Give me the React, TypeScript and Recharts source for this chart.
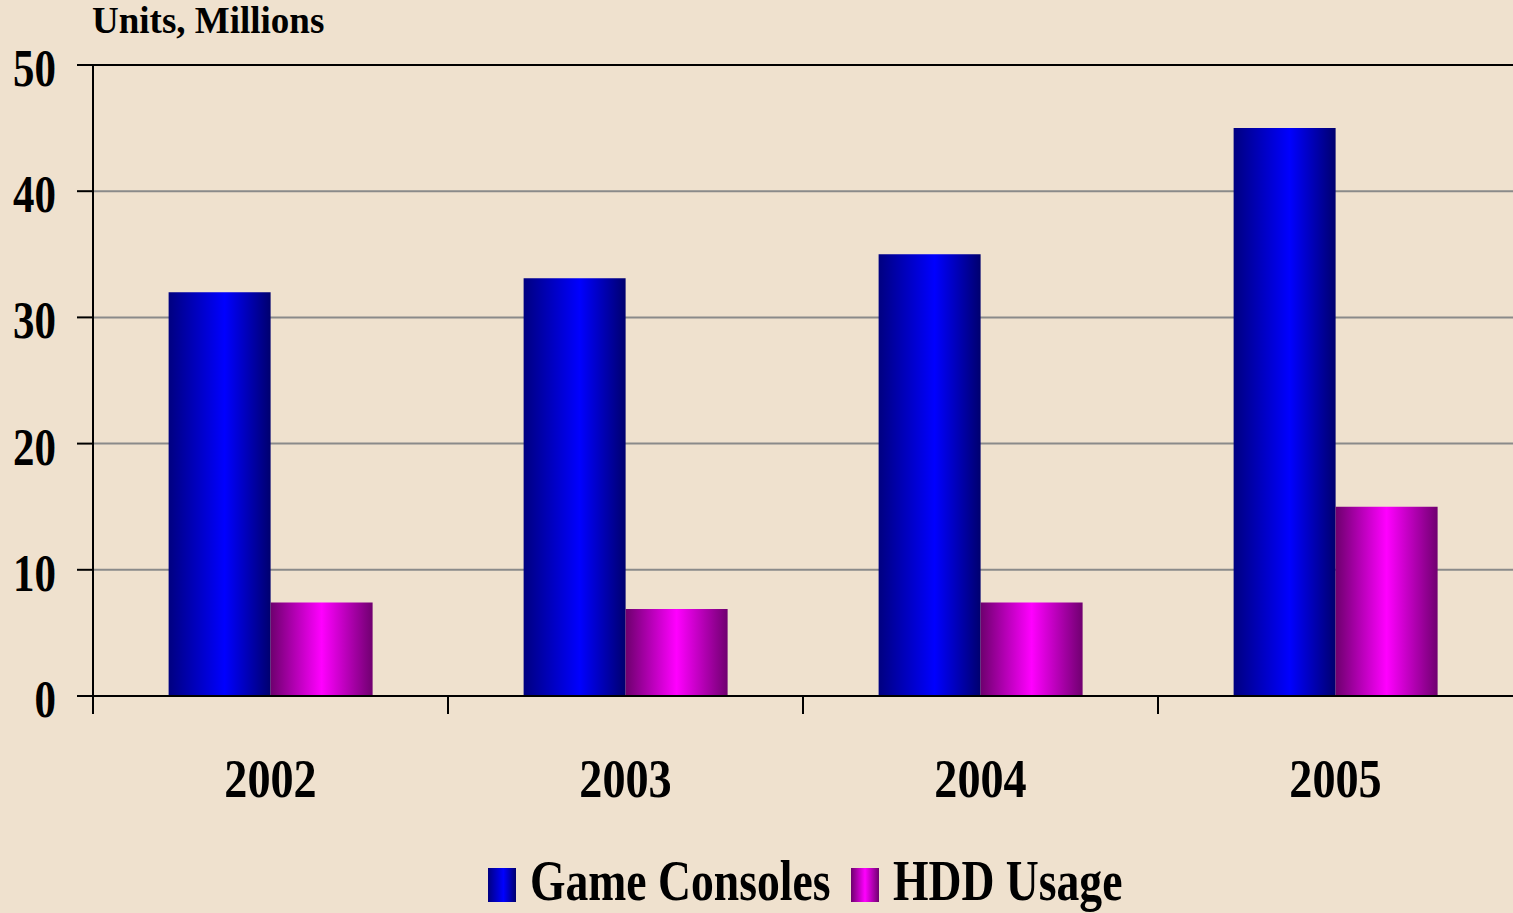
import { BarChart, Bar, XAxis, YAxis, CartesianGrid, ReferenceLine, Legend } from 'recharts';

const years = ['2002', '2003', '2004', '2005'];
const gameConsoles = [32, 33.1, 35, 45];
const hddUsage = [7.4, 6.9, 7.4, 15];
const yTicks = [0, 10, 20, 30, 40, 50];
// category boundaries; the one at the far right edge falls off the picture
const boundaryTicks = [0, 1, 2, 3];

const data = years.map((year, i) => ({
  year,
  consoles: gameConsoles[i],
  hdd: hddUsage[i],
  slot: i + 0.5,
}));

const FONT = '"Liberation Serif", "Times New Roman", serif';
const BG = '#EFE1CE';

function YTick({ x, y, payload }: any) {
  return (
    <text
      transform={`translate(${x},${y}) scale(0.81,1)`}
      x={0}
      y={21}
      textAnchor="end"
      fontFamily={FONT}
      fontWeight="bold"
      fontSize={53}
      fill="#000"
    >
      {payload.value}
    </text>
  );
}

function XTick({ x, y, payload }: any) {
  return (
    <text
      transform={`translate(${x},${y}) scale(0.84,1)`}
      x={0}
      y={100}
      textAnchor="middle"
      fontFamily={FONT}
      fontWeight="bold"
      fontSize={55}
      fill="#000"
    >
      {payload.value}
    </text>
  );
}

const noTick = () => <g />;

function UnitsLabel({ viewBox }: any) {
  return (
    <text
      x={viewBox.x + viewBox.width - 1}
      y={viewBox.y - 32}
      fontFamily={FONT}
      fontWeight="bold"
      fontSize={37}
      fill="#000"
    >
      Units, Millions
    </text>
  );
}

const legendX = [488, 851];

function LegendContent({ payload }: any) {
  return (
    <svg width={1513} height={57} style={{ display: 'block', overflow: 'visible' }}>
      <defs>
        <linearGradient id="lgBlue" x1="0" y1="0" x2="1" y2="0">
          <stop offset="0" stopColor="#000080" />
          <stop offset="0.55" stopColor="#0000FF" />
          <stop offset="1" stopColor="#00006E" />
        </linearGradient>
        <linearGradient id="lgMag" x1="0" y1="0" x2="1" y2="0">
          <stop offset="0" stopColor="#6E006E" />
          <stop offset="0.5" stopColor="#FF00FF" />
          <stop offset="1" stopColor="#700070" />
        </linearGradient>
      </defs>
      {(payload || []).map((entry: any, i: number) => (
        <g key={entry.value} transform={`translate(${legendX[i]},0)`}>
          <rect x={0} y={12} width={28} height={34} fill={i === 0 ? 'url(#lgBlue)' : 'url(#lgMag)'} />
          <text
            transform="translate(42,44) scale(0.815,1)"
            fontFamily={FONT}
            fontWeight="bold"
            fontSize={56}
            fill="#000"
          >
            {entry.value}
          </text>
        </g>
      ))}
    </svg>
  );
}

export default function App() {
  return (
    <div style={{ width: 1513, height: 913, background: BG }}>
      <style>{`body{margin:0;background:${BG};overflow:hidden}`}</style>
      <BarChart
        width={1513}
        height={913}
        data={data}
        margin={{ top: 65, right: 0, bottom: 0, left: 0 }}
        barCategoryGap="21.3%"
        barGap={0}
      >
        <defs>
          <linearGradient id="gBlue" x1="0" y1="0" x2="1" y2="0">
            <stop offset="0" stopColor="#000080" />
            <stop offset="0.55" stopColor="#0000FF" />
            <stop offset="1" stopColor="#00006E" />
          </linearGradient>
          <linearGradient id="gMag" x1="0" y1="0" x2="1" y2="0">
            <stop offset="0" stopColor="#6E006E" />
            <stop offset="0.5" stopColor="#FF00FF" />
            <stop offset="1" stopColor="#700070" />
          </linearGradient>
        </defs>
        <CartesianGrid vertical={false} stroke="#8A8A8A" strokeWidth={2} />
        <XAxis
          xAxisId="bounds"
          type="number"
          dataKey="slot"
          domain={[0, 4]}
          ticks={boundaryTicks}
          height={1}
          axisLine={{ stroke: '#000', strokeWidth: 2 }}
          tickLine={{ stroke: '#000', strokeWidth: 2 }}
          tickSize={18}
          tick={noTick}
          interval={0}
        />
        <XAxis
          xAxisId="cat"
          dataKey="year"
          height={159}
          axisLine={false}
          tickLine={false}
          tickSize={0}
          tickMargin={0}
          tick={<XTick />}
          interval={0}
        />
        <YAxis
          width={93}
          domain={[0, 50]}
          ticks={yTicks}
          interval={0}
          axisLine={{ stroke: '#000', strokeWidth: 2 }}
          tickLine={{ stroke: '#000', strokeWidth: 2 }}
          tickSize={16}
          tickMargin={21}
          tick={<YTick />}
          label={<UnitsLabel />}
        />
        <ReferenceLine xAxisId="cat" y={50} stroke="#000" strokeWidth={2} />
        <Legend verticalAlign="bottom" height={57} content={<LegendContent />} />
        <Bar xAxisId="cat" dataKey="consoles" name="Game Consoles" fill="url(#gBlue)" isAnimationActive={false} />
        <Bar xAxisId="cat" dataKey="hdd" name="HDD Usage" fill="url(#gMag)" isAnimationActive={false} />
      </BarChart>
    </div>
  );
}
